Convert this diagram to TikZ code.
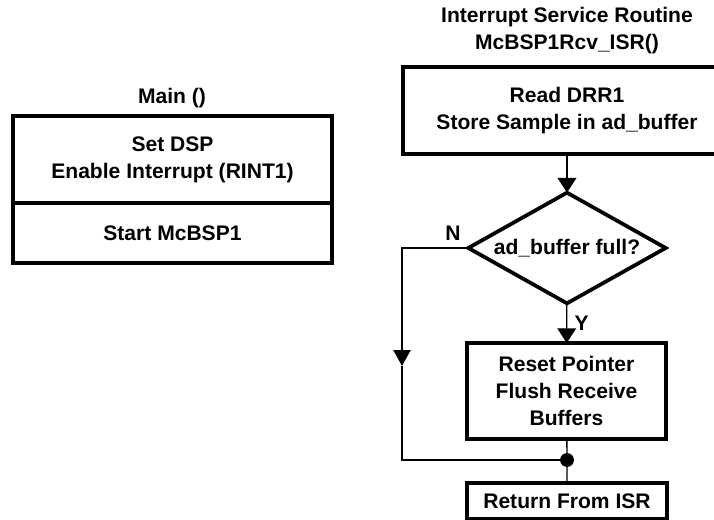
\documentclass[tikz,border=0pt]{standalone}
\usepackage{fontspec}
\setmainfont{Liberation Sans}
\usetikzlibrary{positioning,arrows.meta,shapes.geometric}

\begin{document}
\begin{tikzpicture}[x=0.75pt,y=-0.75pt,
            every node/.append style = {font=\bfseries\fontsize{15.8}{20.5}\selectfont, align=center},
            box/.style = {draw, line width=2.8pt, inner sep=0pt, outer sep=0pt},
            wire/.style = {line width=1pt},
            flow/.style = {wire, -{Triangle[length=11pt,width=14pt]}}]
            \useasboundingbox (0,0) rectangle (714,520);
            % main program
            \node (main) at (172,98) {Main ()};
            \node[box, minimum width=239pt, minimum height=65pt] (setup) at (172.5,159.5) {Set DSP\\Enable Interrupt (RINT1)};
            \node[box, minimum width=239pt, minimum height=45pt, below=0pt of setup] (start) {Start McBSP1};
            % interrupt routine
            \node (isr) at (567,30.5) {Interrupt Service Routine\\McBSP1Rcv\_ISR()};
            \node[box, minimum width=246pt, minimum height=65pt] (read) at (567,110.5) {Read DRR1\\Store Sample in ad\_buffer};
            \node[box, diamond, aspect=1.77, minimum width=148pt, minimum height=83pt] (full) at (567,248) {ad\_buffer full?};
            \node[box, minimum width=149pt, minimum height=72pt] (reset) at (566.5,391) {Reset Pointer\\Flush Receive\\Buffers};
            \node[box, minimum width=150pt, minimum height=27pt] (ret) at (567,501) {Return From ISR};
            \coordinate (join) at (567,460);
            \coordinate (bend) at (402,248);
            \coordinate (mid) at (402,366);
            \draw[flow] (read) -- (full);
            \draw[flow] (full) -- node[right=2pt] {Y} (reset);
            \draw[wire, -{Triangle[length=12pt,width=13pt]}] (full.west) -- node[pos=0.23, above=1.5pt] {N} (bend) -- (mid);
            \draw[wire] (mid) -- (bend |- join) -- (join);
            \draw[wire] (reset) -- (join) -- (ret);
            \fill (join) circle (5.2pt);
        \end{tikzpicture}
\end{document}
